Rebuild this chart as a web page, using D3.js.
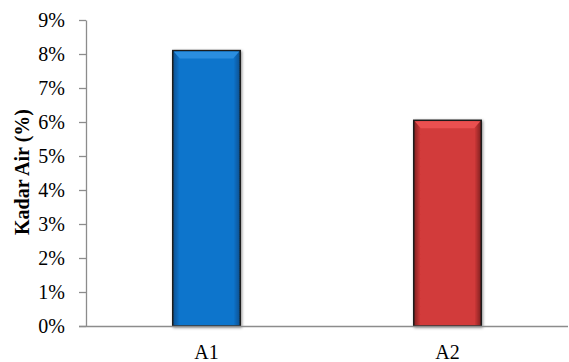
<!DOCTYPE html>
<html>
<head>
<meta charset="utf-8">
<script src="https://cdn.jsdelivr.net/npm/d3@7"></script>
<style>
  body { margin: 0; background: #fff; }
  text { font-family: 'Liberation Serif', 'Times New Roman', serif; fill: #000; }
</style>
</head>
<body>
<div id="app"></div>
<script>
'use strict'
const categories = ['A1', 'A2']
const values = [0.081, 0.0605]
const yTicks = [0, 0.01, 0.02, 0.03, 0.04, 0.05, 0.06, 0.07, 0.08, 0.09]
const yTitle = 'Kadar Air (%)'
const barColors = [
  { light: '#2a8ee0', main: '#0b74cc', dark: '#064f8e' },
  { light: '#ea5050', main: '#d23a3a', dark: '#7e1e1e' }
]

const W = 569, H = 362
const margin = { top: 20, right: 1, bottom: 36, left: 86 }
const width = W - margin.left - margin.right
const height = H - margin.top - margin.bottom

const svg = d3.select('#app').append('svg')
  .attr('width', W)
  .attr('height', H)

const defs = svg.append('defs')

// bevel look: darker left/right edges, lighter top
barColors.forEach((c, i) => {
  const gx = defs.append('linearGradient').attr('id', 'gx' + i)
    .attr('x1', 0).attr('x2', 1).attr('y1', 0).attr('y2', 0)
  gx.append('stop').attr('offset', '0%').attr('stop-color', c.dark)
  gx.append('stop').attr('offset', '10%').attr('stop-color', c.main)
  gx.append('stop').attr('offset', '90%').attr('stop-color', c.main)
  gx.append('stop').attr('offset', '100%').attr('stop-color', c.dark)
})

const shadow = defs.append('filter').attr('id', 'shadow')
  .attr('x', '-20%').attr('y', '-5%').attr('width', '140%').attr('height', '110%')
shadow.append('feDropShadow')
  .attr('dx', 1).attr('dy', 1).attr('stdDeviation', 1.5)
  .attr('flood-color', '#000').attr('flood-opacity', 0.45)

const g = svg.append('g')
  .attr('transform', `translate(${margin.left}, ${margin.top})`)

const x = d3.scaleBand()
  .domain(categories)
  .range([0, width])
  .paddingInner(0.72)
  .paddingOuter(0.36)

const y = d3.scaleLinear()
  .domain([0, 0.09])
  .range([height, 0])

/*
 * Axes
 */
const yAxis = g.append('g')
  .call(d3.axisLeft(y).tickValues(yTicks).tickFormat(d3.format('.0%')).tickSize(7).tickSizeOuter(0))
yAxis.attr('font-family', null).attr('font-size', null)
yAxis.select('.domain').attr('stroke', '#8c8c8c').attr('stroke-width', 1.3)
yAxis.selectAll('.tick line').attr('stroke', '#8c8c8c').attr('stroke-width', 1.3)
yAxis.selectAll('.tick text')
  .attr('x', -21)
  .style('font-size', '20px')
  .attr('fill', '#000')

/*
 * Bars
 */
const bars = g.selectAll('.bar')
  .data(categories)
  .enter()
  .append('g')
  .attr('class', 'bar')

bars.append('rect')
  .attr('x', d => x(d))
  .attr('y', (d, i) => y(values[i]))
  .attr('width', x.bandwidth())
  .attr('height', (d, i) => height - y(values[i]))
  .attr('fill', (d, i) => `url(#gx${i})`)
  .attr('stroke', '#1e1e1e')
  .attr('stroke-width', 1.5)
  .style('filter', 'url(#shadow)')

// lighter bevel strip at the top
bars.append('path')
  .attr('d', (d, i) => {
    const x0 = x(d) + 1, x1 = x(d) + x.bandwidth() - 1, t = y(values[i]) + 1
    return `M${x0},${t} L${x1},${t} L${x1 - 6},${t + 7} L${x0 + 6},${t + 7} Z`
  })
  .attr('fill', (d, i) => barColors[i].light)

const xAxis = g.append('g')
  .attr('transform', `translate(0, ${height})`)
  .call(d3.axisBottom(x).tickSize(0).tickSizeOuter(0))
xAxis.attr('font-family', null).attr('font-size', null)
xAxis.select('.domain').attr('stroke', '#8c8c8c').attr('stroke-width', 1.3)
  .attr('d', `M-7,0.5H${width}`)
xAxis.selectAll('.tick text')
  .attr('y', 33)
  .attr('dy', 0)
  .style('font-size', '20px')
  .attr('fill', '#000')

svg.append('text')
  .attr('transform', `translate(29, ${margin.top + height / 2 - 1}) rotate(-90)`)
  .attr('text-anchor', 'middle')
  .style('font-size', '20px')
  .style('font-weight', 'bold')
  .text(yTitle)
</script>
</body>
</html>
